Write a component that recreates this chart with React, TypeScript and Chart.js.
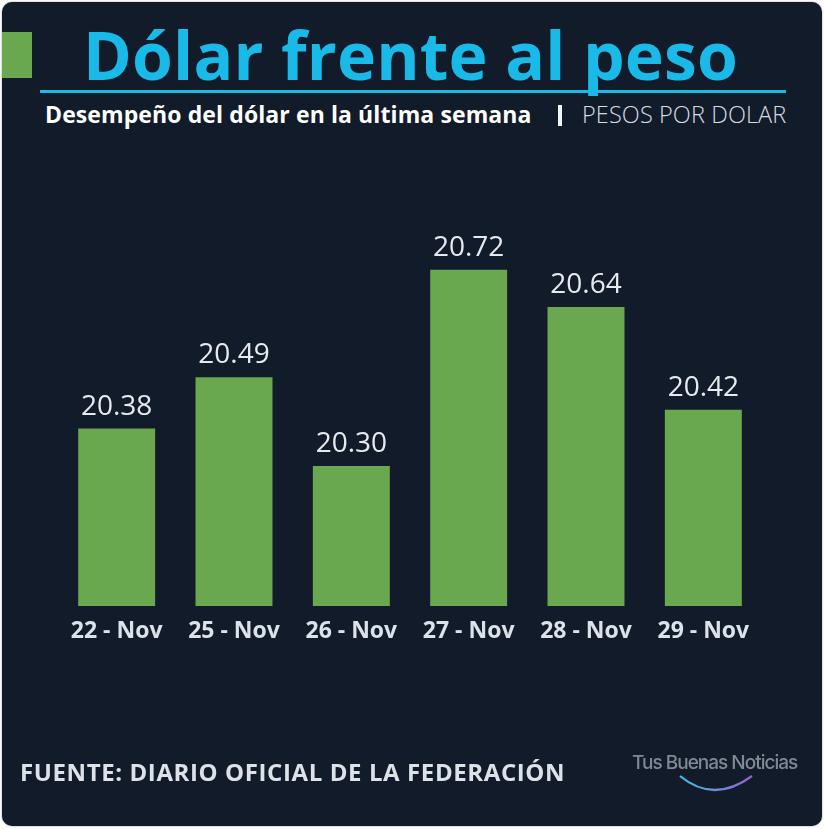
import React, { useEffect, useRef } from "react";
import { Chart, registerables } from "chart.js";

Chart.register(...registerables);

const categories = ["22 - Nov", "25 - Nov", "26 - Nov", "27 - Nov", "28 - Nov", "29 - Nov"];
const values = [20.38, 20.49, 20.3, 20.72, 20.64, 20.42];
const yMin = 20;
const yMax = 21;

const BG = "#121b2a";
const GREEN = "#6aa84f";
const CYAN = "#19b9e8";

const valueLabelPlugin = {
  id: "valueLabels",
  afterDatasetsDraw(chart: any) {
    const ctx = chart.ctx;
    const meta = chart.getDatasetMeta(0);
    ctx.save();
    ctx.font = "400 28px 'Open Sans'";
    ctx.fillStyle = "#e6eaee";
    ctx.textAlign = "center";
    ctx.textBaseline = "alphabetic";
    meta.data.forEach((bar: any, i: number) => {
      ctx.fillText(values[i].toFixed(2), bar.x, bar.y - 14);
    });
    ctx.restore();
  },
};

export default function App() {
  const ref = useRef<HTMLCanvasElement>(null);
  useEffect(() => {
    if (!ref.current) return;
    const chart = new Chart(ref.current, {
      type: "bar",
      data: {
        labels: categories,
        datasets: [
          {
            data: values,
            backgroundColor: GREEN,
            borderWidth: 0,
            barPercentage: 0.82,
            categoryPercentage: 0.8,
          },
        ],
      },
      options: {
        responsive: false,
        animation: false,
        layout: { padding: { left: 58, right: 63, top: 139, bottom: 183 } },
        plugins: { legend: { display: false }, tooltip: { enabled: false } },
        scales: {
          x: {
            grid: { display: false, drawTicks: false },
            border: { display: false },
            ticks: {
              color: "#dce2e9",
              font: { family: "'Open Sans'", size: 23, weight: "bold" },
              padding: 12,
              maxRotation: 0,
            },
            afterFit: (s: any) => {
              s.height = 40;
            },
          },
          y: { display: false, min: yMin, max: yMax },
        },
      },
      plugins: [valueLabelPlugin],
    });
    return () => chart.destroy();
  }, []);

  const txt: React.CSSProperties = { position: "absolute", margin: 0, whiteSpace: "nowrap", lineHeight: 1 };

  return (
    <div style={{ position: "fixed", left: 0, top: 0, width: 825, height: 829, background: "#fff", overflow: "hidden" }}>
      <div
        style={{
          position: "absolute",
          left: 2,
          top: 2,
          width: 820,
          height: 824,
          background: BG,
          borderRadius: 10,
          boxShadow: "0 0 2px rgba(0,0,0,0.45)",
        }}
      />
      <div style={{ position: "absolute", left: 2, top: 32, width: 30, height: 46, background: GREEN }} />
      <div style={{ ...txt, left: 83, top: 21, fontFamily: "'Open Sans'", fontWeight: 700, fontSize: 66, color: CYAN, letterSpacing: 0.2 }}>
        Dólar frente al peso
      </div>
      <div style={{ position: "absolute", left: 40, top: 90, width: 746, height: 3, background: CYAN }} />
      <div style={{ ...txt, left: 45, top: 103, fontFamily: "'Open Sans'", fontWeight: 700, fontSize: 23, color: "#ffffff", letterSpacing: 0.1 }}>
        Desempeño del dólar en la última semana
      </div>
      <div style={{ position: "absolute", left: 558, top: 105, width: 4, height: 21, background: "#f2f4f6" }} />
      <div style={{ ...txt, left: 582, top: 103, fontFamily: "'Open Sans'", fontWeight: 300, fontSize: 23.5, color: "#d9dde2", letterSpacing: 0.1 }}>
        PESOS POR DOLAR
      </div>
      <canvas ref={ref} width={825} height={829} style={{ position: "absolute", left: 0, top: 0 }} />
      <div style={{ ...txt, left: 20, top: 760, fontFamily: "'Open Sans'", fontWeight: 700, fontSize: 24, color: "#dde2e8", letterSpacing: 0.6 }}>
        FUENTE: DIARIO OFICIAL DE LA FEDERACIÓN
      </div>
      <div style={{ ...txt, left: 632, top: 753, fontFamily: "Inter", fontWeight: 500, fontSize: 19, color: "#7f8893", letterSpacing: -1 }}>
        Tus Buenas Noticias
      </div>
      <svg width={825} height={829} style={{ position: "absolute", left: 0, top: 0, pointerEvents: "none" }}>
        <defs>
          <linearGradient id="arcg" x1="0" y1="0" x2="1" y2="0">
            <stop offset="0" stopColor="#3bc2ea" />
            <stop offset="1" stopColor="#9a5cc8" />
          </linearGradient>
        </defs>
        <path d="M 680 776 Q 714 804 752 776" stroke="url(#arcg)" strokeWidth={2.2} fill="none" />
      </svg>
    </div>
  );
}
